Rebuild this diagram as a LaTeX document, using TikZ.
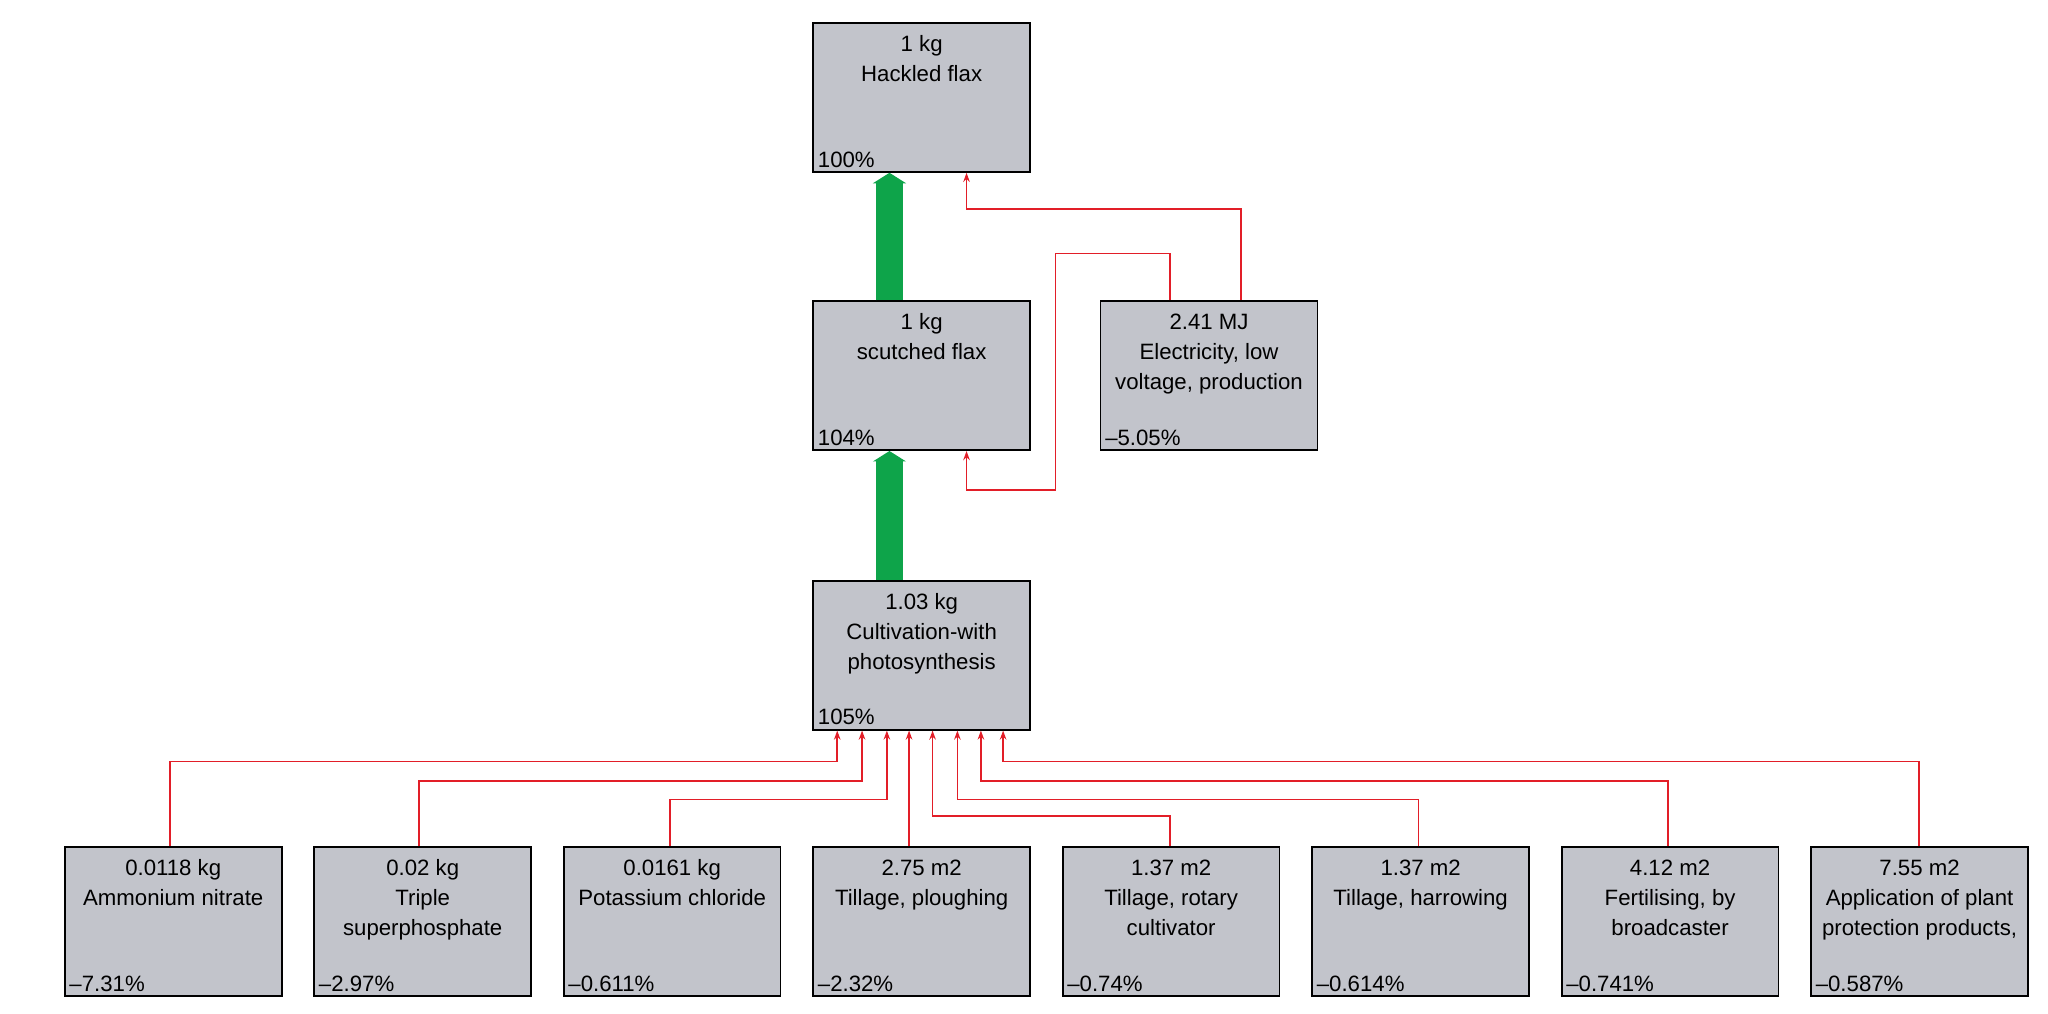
\documentclass[tikz,border=0pt]{standalone}
\usepackage{fontspec}
\setmainfont{Liberation Sans}
\usetikzlibrary{positioning,arrows.meta}
\definecolor{boxgray}{RGB}{194,196,203}
\definecolor{flowred}{RGB}{226,30,40}
\definecolor{flowgreen}{RGB}{14,164,74}
\tikzset{
  process/.style={draw,line width=1.3pt,fill=boxgray,minimum width=166pt,minimum height=114pt,inner sep=0pt,anchor=north west},
  title/.style={anchor=north,align=center,font=\fontsize{17}{23}\selectfont,inner sep=0pt},
  share/.style={anchor=south west,font=\fontsize{17}{20}\selectfont,inner sep=0pt,xshift=4pt,yshift=4pt},
  input/.style={draw=flowred,line width=1.3pt,-{Stealth[length=7pt,width=5pt]}},
  mainflow/.style={draw=flowgreen,line width=21pt,-{Triangle[length=8pt,width=25pt]}}
}
\begin{document}
\begin{tikzpicture}[x=1pt,y=-1pt]
  \useasboundingbox (0,0) rectangle (1568,776);
  % main chain
  \node (hack)[process] at (622,17) {};
  \node[title] at ([yshift=-10pt]hack.north) {1 kg\\Hackled flax};
  \node[share] at (hack.south west) {100\%};
  \node (scut)[process] at (622,230) {};
  \node[title] at ([yshift=-10pt]scut.north) {1 kg\\scutched flax};
  \node[share] at (scut.south west) {104\%};
  \node (elec)[process] at (842,230) {};
  \node[title] at ([yshift=-10pt]elec.north) {2.41 MJ\\Electricity, low\\voltage, production};
  \node[share] at (elec.south west) {--5.05\%};
  \node (cult)[process] at (622,444) {};
  \node[title] at ([yshift=-10pt]cult.north) {1.03 kg\\Cultivation-with\\photosynthesis};
  \node[share] at (cult.south west) {105\%};
  % inputs
  \node (amm)[process] at (49,648) {};
  \node[title] at ([yshift=-10pt]amm.north) {0.0118 kg\\Ammonium nitrate};
  \node[share] at (amm.south west) {--7.31\%};
  \node (tsp)[process] at (240,648) {};
  \node[title] at ([yshift=-10pt]tsp.north) {0.02 kg\\Triple\\superphosphate};
  \node[share] at (tsp.south west) {--2.97\%};
  \node (pot)[process] at (431,648) {};
  \node[title] at ([yshift=-10pt]pot.north) {0.0161 kg\\Potassium chloride};
  \node[share] at (pot.south west) {--0.611\%};
  \node (plough)[process] at (622,648) {};
  \node[title] at ([yshift=-10pt]plough.north) {2.75 m2\\Tillage, ploughing};
  \node[share] at (plough.south west) {--2.32\%};
  \node (rotary)[process] at (813,648) {};
  \node[title] at ([yshift=-10pt]rotary.north) {1.37 m2\\Tillage, rotary\\cultivator};
  \node[share] at (rotary.south west) {--0.74\%};
  \node (harrow)[process] at (1004,648) {};
  \node[title] at ([yshift=-10pt]harrow.north) {1.37 m2\\Tillage, harrowing};
  \node[share] at (harrow.south west) {--0.614\%};
  \node (fert)[process] at (1195,648) {};
  \node[title] at ([yshift=-10pt]fert.north) {4.12 m2\\Fertilising, by\\broadcaster};
  \node[share] at (fert.south west) {--0.741\%};
  \node (appl)[process] at (1386,648) {};
  \node[title] at ([yshift=-10pt]appl.north) {7.55 m2\\Application of plant\\protection products,};
  \node[share] at (appl.south west) {--0.587\%};
  % flows
  \draw[mainflow] (scut.north -| 681,0) -- (hack.south -| 681,0);
  \draw[mainflow] (cult.north -| 681,0) -- (scut.south -| 681,0);
  \draw[input] (elec.north -| 950,0) |- (740,160) -- (hack.south -| 740,0);
  \draw[input] (elec.north -| 896,0) |- (808,194) |- (740,375) -- (scut.south -| 740,0);
  \draw[input] (amm.north -| 130,0) |- (641,583) -- (cult.south -| 641,0);
  \draw[input] (tsp.north -| 321,0) |- (660,598) -- (cult.south -| 660,0);
  \draw[input] (pot.north -| 513,0) |- (679,612) -- (cult.south -| 679,0);
  \draw[input] (plough.north -| 696,0) -- (cult.south -| 696,0);
  \draw[input] (rotary.north -| 896,0) |- (714,625) -- (cult.south -| 714,0);
  \draw[input] (harrow.north -| 1086,0) |- (733,612) -- (cult.south -| 733,0);
  \draw[input] (fert.north -| 1277,0) |- (751,598) -- (cult.south -| 751,0);
  \draw[input] (appl.north -| 1469,0) |- (768,583) -- (cult.south -| 768,0);
\end{tikzpicture}
\end{document}
